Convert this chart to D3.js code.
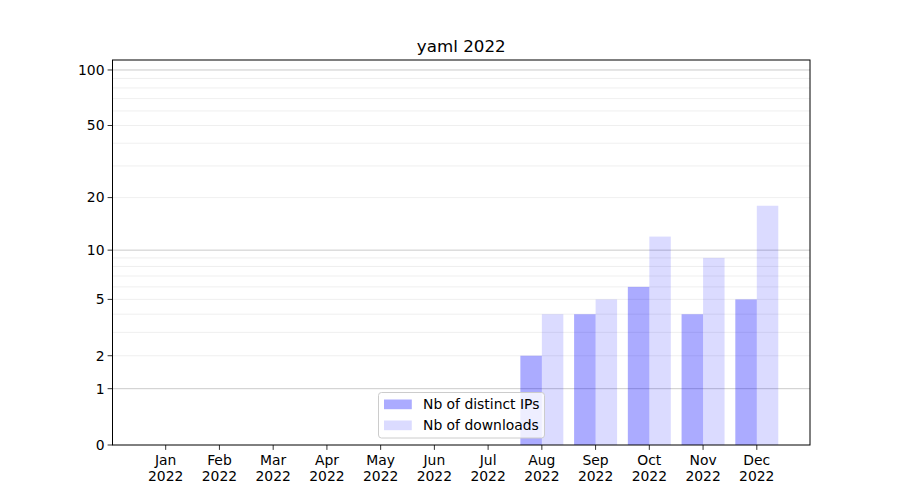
<!DOCTYPE html>
<html><head><meta charset="utf-8">
<script src="https://cdn.jsdelivr.net/npm/d3@7"></script>
<style>body{margin:0;background:#fff}text{font-family:"DejaVu Sans",sans-serif;fill:#000}</style>
</head><body><svg id="c" width="900" height="500"></svg>
<script>
const months = ["Jan","Feb","Mar","Apr","May","Jun","Jul","Aug","Sep","Oct","Nov","Dec"];
const year = "2022";
const distinctIPs = [0,0,0,0,0,0,0,2,4,6,4,5];
const downloads = [0,0,0,0,0,0,0,4,5,12,9,18];
const yTicks = [0,1,2,5,10,20,50,100];
const majorGrid = [1,10,100];
const minorGrid = [2,3,4,5,6,7,8,9,20,30,40,50,60,70,80,90];
const seriesNames = ["Nb of distinct IPs","Nb of downloads"];
const title = "yaml 2022";

const svg = d3.select("#c");
const L=112.5, R=810, T=60, B=445;
const x = d3.scaleLinear().domain([-0.99, 11.99]).range([L,R]);
const yl = d3.scaleLinear().domain([0, Math.log10(114.2)]).range([B,T]);
const y = v => yl(Math.log10(1+v));

// grid
svg.append("g").selectAll("line").data(minorGrid).join("line")
  .attr("x1",L).attr("x2",R).attr("y1",d=>y(d)).attr("y2",d=>y(d))
  .attr("stroke","#ebebeb").attr("stroke-width",0.8);
svg.append("g").selectAll("line").data(majorGrid).join("line")
  .attr("x1",L).attr("x2",R).attr("y1",d=>y(d)).attr("y2",d=>y(d))
  .attr("stroke","#cbcbcb").attr("stroke-width",1);

const w = x(0.4)-x(0);
svg.append("g").selectAll("rect").data(distinctIPs).join("rect")
  .attr("x",(d,i)=>x(i-0.4)).attr("width",w)
  .attr("y",d=>y(d)).attr("height",d=>B-y(d))
  .attr("fill","rgba(0,0,255,0.33)");
svg.append("g").selectAll("rect").data(downloads).join("rect")
  .attr("x",(d,i)=>x(i)).attr("width",w)
  .attr("y",d=>y(d)).attr("height",d=>B-y(d))
  .attr("fill","rgba(0,0,255,0.14)");

// axes frame
svg.append("rect").attr("x",L).attr("y",T).attr("width",R-L).attr("height",B-T)
  .attr("fill","none").attr("stroke","#000").attr("stroke-width",1);

// y ticks
const yg = svg.append("g");
yTicks.forEach(t=>{
  const yy=y(t);
  yg.append("line").attr("x1",L-4.9).attr("x2",L).attr("y1",yy).attr("y2",yy).attr("stroke","#000").attr("stroke-width",0.8);
  yg.append("text").attr("x",L-8).attr("y",yy).attr("dy","0.35em").attr("text-anchor","end")
    .attr("font-size","13.9px").text(t);
});
// x ticks
const xg = svg.append("g");
months.forEach((m,i)=>{
  const xx=x(i);
  xg.append("line").attr("x1",xx).attr("x2",xx).attr("y1",B).attr("y2",B+4.9).attr("stroke","#000").attr("stroke-width",0.8);
  const t = xg.append("text").attr("x",xx).attr("y",B+20).attr("text-anchor","middle").attr("font-size","13.9px");
  t.append("tspan").attr("x",xx).text(m);
  t.append("tspan").attr("x",xx).attr("dy","16.2px").text(year);
});

svg.append("text").attr("x",(L+R)/2).attr("y",52).attr("text-anchor","middle")
  .attr("font-size","16.7px").text(title);

// legend
const lg = svg.append("g");
lg.append("rect").attr("x",378.5).attr("y",392.5).attr("width",166).attr("height",45.5).attr("rx",3)
  .attr("fill","rgba(255,255,255,0.8)").attr("stroke","#cccccc").attr("stroke-width",1);
const lcolors=["rgba(0,0,255,0.33)","rgba(0,0,255,0.14)"];
seriesNames.forEach((n,i)=>{
  const yy = 399.5 + i*21;
  lg.append("rect").attr("x",384).attr("y",yy).attr("width",27.8).attr("height",9.7).attr("fill",lcolors[i]);
  lg.append("text").attr("x",423).attr("y",yy+5).attr("dy","0.35em").attr("font-size","13.9px").text(n);
});
</script></body></html>
